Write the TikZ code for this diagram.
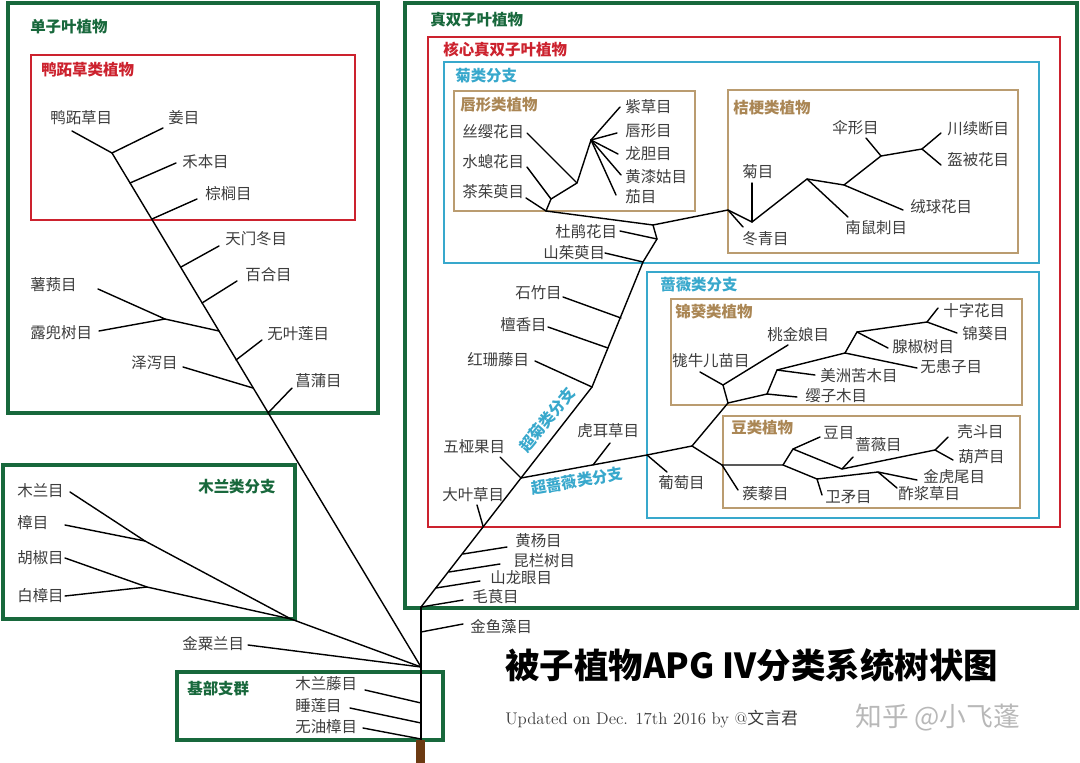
\documentclass[tikz,border=0pt]{standalone}
\usepackage{fontspec}
\newfontfamily\cjk{Noto Sans CJK SC}
\definecolor{greenc}{RGB}{24,104,60}
\definecolor{redc}{RGB}{204,34,46}
\definecolor{bluec}{RGB}{56,168,204}
\definecolor{tanc}{RGB}{186,156,112}
\definecolor{tantext}{RGB}{170,134,84}
\definecolor{lblc}{RGB}{60,60,60}
\definecolor{trunkc}{RGB}{108,58,18}

\begin{document}
\begin{tikzpicture}[x=0.025cm,y=-0.025cm,
  ord/.style={anchor=west,inner sep=0pt,text=lblc,font=\cjk\fontsize{11}{13}\selectfont},
  ttl/.style={anchor=west,inner sep=0pt,font=\cjk\bfseries\fontsize{11}{13}\selectfont},
  sup/.style={anchor=center,inner sep=0pt,text=bluec,font=\cjk\bfseries\fontsize{11}{13}\selectfont},
  br/.style={line width=1pt,line join=round,line cap=round},
  greenbox/.style={draw=greenc,line width=2.8pt},
  redbox/.style={draw=redc,line width=1.3pt},
  bluebox/.style={draw=bluec,line width=1.2pt},
  tanbox/.style={draw=tanc,line width=1.2pt}]
\useasboundingbox (0,0) rectangle (1080,763);
\draw[greenbox] (8,3) rectangle (378,413);
\draw[redbox] (31,55) rectangle (355,220);
\draw[greenbox] (3,465) rectangle (295,619);
\draw[greenbox] (177,672) rectangle (443,740);
\draw[greenbox] (405,3) rectangle (1077,608);
\draw[redbox] (428,37) rectangle (1060,527);
\draw[bluebox] (444,62) rectangle (1039,263);
\draw[tanbox] (454,91) rectangle (695,211);
\draw[tanbox] (728,90) rectangle (1018,253);
\draw[bluebox] (647,272) rectangle (1039,518);
\draw[tanbox] (671,299) rectangle (1022,405);
\draw[tanbox] (723,416) rectangle (1020,508);

\node[ttl,text=greenc] (monocots) at (30,27) {单子叶植物};
\node[ttl,text=redc] (commelinids) at (41,70) {鸭跖草类植物};
\node[ttl,text=greenc] (magnoliids) at (198,487) {木兰类分支};
\node[ttl,text=greenc] (basal) at (187,689) {基部支群};
\node[ttl,text=greenc] (eudicots) at (430,20) {真双子叶植物};
\node[ttl,text=redc] (core) at (443,50) {核心真双子叶植物};
\node[ttl,text=bluec] (asterids) at (455,76) {菊类分支};
\node[ttl,text=tantext] (lamiids) at (460,105) {唇形类植物};
\node[ttl,text=tantext] (campanulids) at (733,108) {桔梗类植物};
\node[ttl,text=bluec] (rosids) at (660,285) {蔷薇类分支};
\node[ttl,text=tantext] (malvids) at (675,312) {锦葵类植物};
\node[ttl,text=tantext] (fabids) at (731,428) {豆类植物};
\node[sup,rotate=51] (superasterids) at (547,420) {超菊类分支};
\node[sup,rotate=10] (superrosids) at (577,481) {超蔷薇类分支};

\coordinate (R) at (421,667);
\coordinate (E) at (421,607);
\coordinate (base) at (421,740);
\coordinate (m0) at (112,153);
\coordinate (m1) at (130,183);
\coordinate (m2) at (152,219);
\coordinate (m3) at (181,267);
\coordinate (m4) at (202,303);
\coordinate (m5) at (219,331);
\coordinate (m6) at (236,360);
\coordinate (m7) at (253,388);
\coordinate (m8) at (268,413);
\coordinate (m9) at (165,319);
\node[ord] (commelinales) at (50,118) {鸭跖草目}; \coordinate (commelinales-e) at (72,131);
\node[ord] (zingiberales) at (168,118) {姜目}; \coordinate (zingiberales-e) at (163,128);
\node[ord] (poales) at (182,162) {禾本目}; \coordinate (poales-e) at (176,163);
\node[ord] (arecales) at (205,194) {棕榈目}; \coordinate (arecales-e) at (197,199);
\node[ord] (asparagales) at (225,239) {天门冬目}; \coordinate (asparagales-e) at (219,246);
\node[ord] (liliales) at (245,275) {百合目}; \coordinate (liliales-e) at (237,281);
\node[ord] (dioscoreales) at (30,285) {薯蓣目}; \coordinate (dioscoreales-e) at (98,289);
\node[ord] (pandanales) at (30,333) {露兜树目}; \coordinate (pandanales-e) at (99,331);
\node[ord] (petrosaviales) at (267,334) {无叶莲目}; \coordinate (petrosaviales-e) at (262,340);
\node[ord] (alismatales) at (131,363) {泽泻目}; \coordinate (alismatales-e) at (183,367);
\node[ord] (acorales) at (295,381) {菖蒲目}; \coordinate (acorales-e) at (292,388);
\draw[br] (m0) -- (R);
\draw[br] (commelinales-e) -- (m0) -- (zingiberales-e);
\draw[br] (m1) -- (poales-e);
\draw[br] (m2) -- (arecales-e);
\draw[br] (m3) -- (asparagales-e);
\draw[br] (m4) -- (liliales-e);
\draw[br] (dioscoreales-e) -- (m9) -- (pandanales-e);
\draw[br] (m9) -- (m5);
\draw[br] (m6) -- (petrosaviales-e);
\draw[br] (m7) -- (alismatales-e);
\draw[br] (m8) -- (acorales-e);

\coordinate (M) at (291,619);
\coordinate (c1) at (145,541);
\coordinate (c2) at (147,587);
\node[ord] (magnoliales) at (17,491) {木兰目}; \coordinate (magnoliales-e) at (70,492);
\node[ord] (laurales) at (17,523) {樟目}; \coordinate (laurales-e) at (65,525);
\node[ord] (piperales) at (17,558) {胡椒目}; \coordinate (piperales-e) at (65,558);
\node[ord] (canellales) at (17,596) {白樟目}; \coordinate (canellales-e) at (65,596);
\node[ord] (chloranthales) at (182,644) {金粟兰目}; \coordinate (chloranthales-e) at (248,645);
\draw[br] (magnoliales-e) -- (c1) -- (M) -- (R);
\draw[br] (laurales-e) -- (c1);
\draw[br] (piperales-e) -- (c2) -- (M);
\draw[br] (canellales-e) -- (c2);
\draw[br] (chloranthales-e) -- (R);

\coordinate (b1) at (421,703);
\coordinate (b2) at (421,723);
\coordinate (b3) at (421,739);
\node[ord] (austrobaileyales) at (295,684) {木兰藤目}; \coordinate (austrobaileyales-e) at (365,690);
\node[ord] (nymphaeales) at (295,706) {睡莲目}; \coordinate (nymphaeales-e) at (350,708);
\node[ord] (amborellales) at (295,727) {无油樟目}; \coordinate (amborellales-e) at (363,728);
\draw[br] (base) -- (E);
\draw[br] (austrobaileyales-e) -- (b1);
\draw[br] (nymphaeales-e) -- (b2);
\draw[br] (amborellales-e) -- (b3);
\fill[trunkc] (416,740) rectangle (425,763);

\coordinate (e0) at (421,632);
\coordinate (e1) at (436,588);
\coordinate (e2) at (449,572);
\coordinate (e3) at (463,554);
\coordinate (e4) at (483,526);
\coordinate (e5) at (521,478);
\node[ord] (ceratophyllales) at (470,627) {金鱼藻目}; \coordinate (ceratophyllales-e) at (463,624);
\node[ord] (ranunculales) at (472,597) {毛茛目}; \coordinate (ranunculales-e) at (463,600);
\node[ord] (proteales) at (490,578) {山龙眼目}; \coordinate (proteales-e) at (480,581);
\node[ord] (trochodendrales) at (513,561) {昆栏树目}; \coordinate (trochodendrales-e) at (500,564);
\node[ord] (buxales) at (515,541) {黄杨目}; \coordinate (buxales-e) at (507,547);
\node[ord] (gunnerales) at (442,495) {大叶草目}; \coordinate (gunnerales-e) at (477,505);
\node[ord] (dilleniales) at (443,447) {五桠果目}; \coordinate (dilleniales-e) at (500,457);
\draw[br] (E) -- (e5);
\draw[br] (e0) -- (ceratophyllales-e);
\draw[br] (E) -- (ranunculales-e);
\draw[br] (e1) -- (proteales-e);
\draw[br] (e2) -- (trochodendrales-e);
\draw[br] (e3) -- (buxales-e);
\draw[br] (e4) -- (gunnerales-e);
\draw[br] (e5) -- (dilleniales-e);

\coordinate (s1) at (592,387);
\coordinate (s2) at (608,348);
\coordinate (s3) at (621,318);
\coordinate (s4) at (643,262);
\coordinate (s5) at (657,239);
\coordinate (AJ) at (653,225);
\node[ord] (berberidopsidales) at (467,360) {红珊藤目}; \coordinate (berberidopsidales-e) at (535,361);
\node[ord] (santalales) at (500,325) {檀香目}; \coordinate (santalales-e) at (548,327);
\node[ord] (caryophyllales) at (515,293) {石竹目}; \coordinate (caryophyllales-e) at (563,297);
\node[ord] (cornales) at (543,253) {山茱萸目}; \coordinate (cornales-e) at (605,253);
\node[ord] (ericales) at (555,232) {杜鹃花目}; \coordinate (ericales-e) at (620,231);
\draw[br] (e5) -- (s1) -- (s4) -- (s5) -- (AJ);
\draw[br] (s1) -- (berberidopsidales-e);
\draw[br] (s2) -- (santalales-e);
\draw[br] (s3) -- (caryophyllales-e);
\draw[br] (s4) -- (cornales-e);
\draw[br] (s5) -- (ericales-e);

\coordinate (LJ) at (546,211);
\coordinate (l1) at (551,199);
\coordinate (l2) at (577,183);
\coordinate (l3) at (591,140);
\node[ord] (icacinales) at (462,192) {茶茱萸目}; \coordinate (icacinales-e) at (526,198);
\node[ord] (metteniusales) at (462,162) {水螅花目}; \coordinate (metteniusales-e) at (527,167);
\node[ord] (garryales) at (462,132) {丝缨花目}; \coordinate (garryales-e) at (527,133);
\node[ord] (boraginales) at (625,107) {紫草目}; \coordinate (boraginales-e) at (620,107);
\node[ord] (lamiales) at (625,131) {唇形目}; \coordinate (lamiales-e) at (617,133);
\node[ord] (gentianales) at (625,154) {龙胆目}; \coordinate (gentianales-e) at (618,154);
\node[ord] (vahliales) at (625,177) {黄漆姑目}; \coordinate (vahliales-e) at (621,175);
\node[ord] (solanales) at (625,197) {茄目}; \coordinate (solanales-e) at (616,195);
\draw[br] (AJ) -- (LJ) -- (l1) -- (l2) -- (l3);
\draw[br] (LJ) -- (icacinales-e);
\draw[br] (l1) -- (metteniusales-e);
\draw[br] (l2) -- (garryales-e);
\draw[br] (l3) -- (boraginales-e);
\draw[br] (l3) -- (lamiales-e);
\draw[br] (l3) -- (gentianales-e);
\draw[br] (l3) -- (vahliales-e);
\draw[br] (l3) -- (solanales-e);

\coordinate (CJ) at (728,210);
\coordinate (k1) at (752,222);
\coordinate (k2) at (807,179);
\coordinate (k3) at (844,185);
\coordinate (k4) at (881,156);
\coordinate (k5) at (922,149);
\node[ord] (aquifoliales) at (742,239) {冬青目}; \coordinate (aquifoliales-e) at (743,227);
\node[ord] (asterales) at (742,172) {菊目}; \coordinate (asterales-e) at (752,183);
\node[ord] (escalloniales) at (845,228) {南鼠刺目}; \coordinate (escalloniales-e) at (848,217);
\node[ord] (bruniales) at (910,207) {绒球花目}; \coordinate (bruniales-e) at (903,210);
\node[ord] (apiales) at (832,128) {伞形目}; \coordinate (apiales-e) at (866,138);
\node[ord] (dipsacales) at (947,129) {川续断目}; \coordinate (dipsacales-e) at (941,133);
\node[ord] (paracryphiales) at (947,160) {盔被花目}; \coordinate (paracryphiales-e) at (941,165);
\draw[br] (AJ) -- (CJ) -- (k1) -- (k2) -- (k3) -- (k4) -- (k5);
\draw[br] (CJ) -- (aquifoliales-e);
\draw[br] (k1) -- (asterales-e);
\draw[br] (k2) -- (escalloniales-e);
\draw[br] (k3) -- (bruniales-e);
\draw[br] (k4) -- (apiales-e);
\draw[br] (k5) -- (dipsacales-e);
\draw[br] (k5) -- (paracryphiales-e);

\coordinate (r0) at (593,465);
\coordinate (r1) at (647,455);
\coordinate (RJ) at (692,446);
\node[ord] (saxifragales) at (577,431) {虎耳草目}; \coordinate (saxifragales-e) at (610,443);
\node[ord] (vitales) at (658,483) {葡萄目}; \coordinate (vitales-e) at (667,472);
\draw[br] (e5) -- (r1) -- (RJ);
\draw[br] (r0) -- (saxifragales-e);
\draw[br] (r1) -- (vitales-e);

\coordinate (MJ) at (728,403);
\coordinate (p1) at (723,385);
\coordinate (p2) at (767,394);
\coordinate (p3) at (777,370);
\coordinate (p4) at (845,353);
\coordinate (p5) at (857,332);
\coordinate (p6) at (927,322);
\node[ord] (geraniales) at (672,361) {牻牛儿苗目}; \coordinate (geraniales-e) at (700,372);
\node[ord] (myrtales) at (767,335) {桃金娘目}; \coordinate (myrtales-e) at (788,345);
\node[ord] (crossosomatales) at (805,396) {缨子木目}; \coordinate (crossosomatales-e) at (797,397);
\node[ord] (picramniales) at (820,376) {美洲苦木目}; \coordinate (picramniales-e) at (815,375);
\node[ord] (sapindales) at (920,367) {无患子目}; \coordinate (sapindales-e) at (917,368);
\node[ord] (huerteales) at (892,347) {腺椒树目}; \coordinate (huerteales-e) at (888,348);
\node[ord] (brassicales) at (943,311) {十字花目}; \coordinate (brassicales-e) at (938,308);
\node[ord] (malvales) at (962,334) {锦葵目}; \coordinate (malvales-e) at (957,333);
\draw[br] (RJ) -- (MJ) -- (p1);
\draw[br] (MJ) -- (p2) -- (p3) -- (p4) -- (p5) -- (p6);
\draw[br] (geraniales-e) -- (p1) -- (myrtales-e);
\draw[br] (p2) -- (crossosomatales-e);
\draw[br] (p3) -- (picramniales-e);
\draw[br] (p4) -- (sapindales-e);
\draw[br] (p5) -- (huerteales-e);
\draw[br] (brassicales-e) -- (p6) -- (malvales-e);

\coordinate (FJ) at (722,465);
\coordinate (f1) at (783,465);
\coordinate (f2) at (793,449);
\coordinate (f3) at (842,469);
\coordinate (f4) at (935,450);
\coordinate (f5) at (817,479);
\coordinate (f6) at (878,472);
\node[ord] (zygophyllales) at (742,494) {蒺藜目}; \coordinate (zygophyllales-e) at (738,490);
\node[ord] (fabales) at (823,433) {豆目}; \coordinate (fabales-e) at (820,437);
\node[ord] (rosales) at (855,445) {蔷薇目}; \coordinate (rosales-e) at (853,457);
\node[ord] (fagales) at (957,432) {壳斗目}; \coordinate (fagales-e) at (948,437);
\node[ord] (cucurbitales) at (958,457) {葫芦目}; \coordinate (cucurbitales-e) at (953,460);
\node[ord] (celastrales) at (825,497) {卫矛目}; \coordinate (celastrales-e) at (822,495);
\node[ord] (malpighiales) at (923,477) {金虎尾目}; \coordinate (malpighiales-e) at (917,480);
\node[ord] (oxalidales) at (898,494) {酢浆草目}; \coordinate (oxalidales-e) at (897,488);
\draw[br] (RJ) -- (FJ) -- (f1) -- (f2) -- (f3) -- (f4);
\draw[br] (f1) -- (f5) -- (f6);
\draw[br] (FJ) -- (zygophyllales-e);
\draw[br] (f2) -- (fabales-e);
\draw[br] (f3) -- (rosales-e);
\draw[br] (fagales-e) -- (f4) -- (cucurbitales-e);
\draw[br] (f5) -- (celastrales-e);
\draw[br] (malpighiales-e) -- (f6) -- (oxalidales-e);

\node[anchor=west,inner sep=0pt,font=\cjk\bfseries\fontsize{24.5}{27}\selectfont] (title) at (505,665) {被子植物APG IV分类系统树状图};
\node[anchor=west,inner sep=0pt,text=lblc,font=\fontsize{12}{14}\selectfont] (updated) at (505,719) {Updated on Dec. 17th 2016 by @{\cjk 文言君}};
\node[anchor=west,inner sep=0pt,text=black!28,font=\cjk\fontsize{19}{22}\selectfont] (mark) at (855,718) {知乎 @小飞蓬};
\end{tikzpicture}
\end{document}
